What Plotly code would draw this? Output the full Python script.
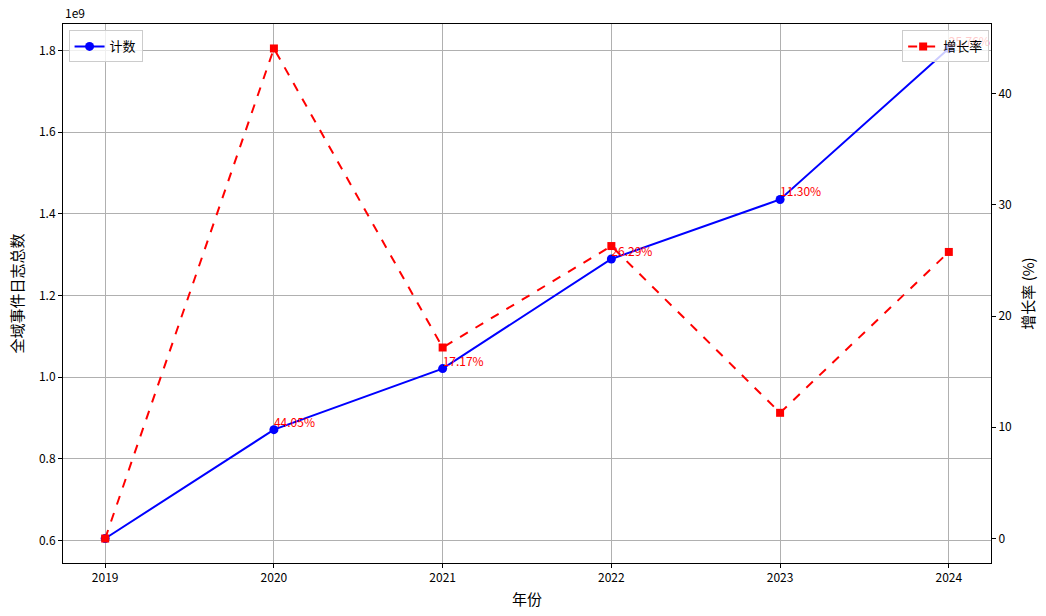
import plotly.graph_objects as go

years = [2019, 2020, 2021, 2022, 2023, 2024]
counts = [0.605e9, 0.8715e9, 1.0211e9, 1.2896e9, 1.4353e9, 1.8050e9]
growth = [0.0, 44.05, 17.17, 26.29, 11.30, 25.76]
left_ticks = [0.6e9, 0.8e9, 1.0e9, 1.2e9, 1.4e9, 1.6e9, 1.8e9]
left_tick_text = ["0.6", "0.8", "1.0", "1.2", "1.4", "1.6", "1.8"]
right_ticks = [0, 10, 20, 30, 40]

FONT = "Noto Sans CJK SC, DejaVu Sans, sans-serif"

fig = go.Figure()
fig.add_trace(go.Scatter(
    x=years, y=counts, name="计数", mode="lines+markers",
    line=dict(color="blue", width=2), marker=dict(symbol="circle", size=9, color="blue"),
    legend="legend", yaxis="y", showlegend=True))
fig.add_trace(go.Scatter(
    x=years, y=growth, name="增长率", mode="lines+markers",
    line=dict(color="red", width=2, dash="dash"), marker=dict(symbol="square", size=8, color="red"),
    legend="legend2", yaxis="y2", showlegend=True))

lab_x = [yr for yr, g in zip(years, growth) if g != 0]
lab_y = [c for c, g in zip(counts, growth) if g != 0]
lab_t = [f"{g:.2f}%" for g in growth if g != 0]
fig.add_trace(go.Scatter(
    x=lab_x, y=lab_y, mode="text", text=lab_t, textposition="top right",
    textfont=dict(color="red", size=12, family=FONT), showlegend=False,
    hoverinfo="skip", yaxis="y"))

fig.add_annotation(x=0, y=1, xref="paper", yref="paper", text="1e9", showarrow=False,
                   xanchor="left", yanchor="bottom", yshift=1,
                   font=dict(color="black", size=12, family=FONT))

axis_common = dict(showline=True, linecolor="black", linewidth=1, ticks="outside",
                   tickcolor="black", ticklen=4, tickfont=dict(size=12, color="black", family=FONT),
                   zeroline=False, automargin=False)

fig.update_layout(
    width=1046, height=616,
    margin=dict(l=63, r=55, t=24, b=53),
    paper_bgcolor="white", plot_bgcolor="white",
    font=dict(family=FONT, color="black"),
    showlegend=True,
    xaxis=dict(range=[2018.75, 2024.25], tickvals=years, ticktext=[str(y) for y in years],
               showgrid=True, gridcolor="#b0b0b0", gridwidth=1, mirror=True,
               title=dict(text="年份", font=dict(size=15, family=FONT), standoff=10),
               **axis_common),
    yaxis=dict(range=[0.545e9, 1.865e9], tickvals=left_ticks, ticktext=left_tick_text,
               showgrid=True, gridcolor="#b0b0b0", gridwidth=1,
               title=dict(text="全域事件日志总数", font=dict(size=15, family=FONT), standoff=11),
               **axis_common),
    yaxis2=dict(range=[-2.2, 46.25], tickvals=right_ticks, overlaying="y", side="right",
                showgrid=False,
                title=dict(text="增长率 (%)", font=dict(size=15, family=FONT), standoff=12),
                **axis_common),
    legend=dict(x=0.006, y=0.988, xanchor="left", yanchor="top", visible=True,
                bgcolor="rgba(255,255,255,0.8)", bordercolor="#cccccc", borderwidth=1,
                font=dict(size=13, family=FONT)),
    legend2=dict(x=0.998, y=0.988, xanchor="right", yanchor="top", visible=True,
                 bgcolor="rgba(255,255,255,0.8)", bordercolor="#cccccc", borderwidth=1,
                 font=dict(size=13, family=FONT)),
)

fig.write_html("out.html", config={"displayModeBar": False},
               post_script="document.body.style.margin='0';")
